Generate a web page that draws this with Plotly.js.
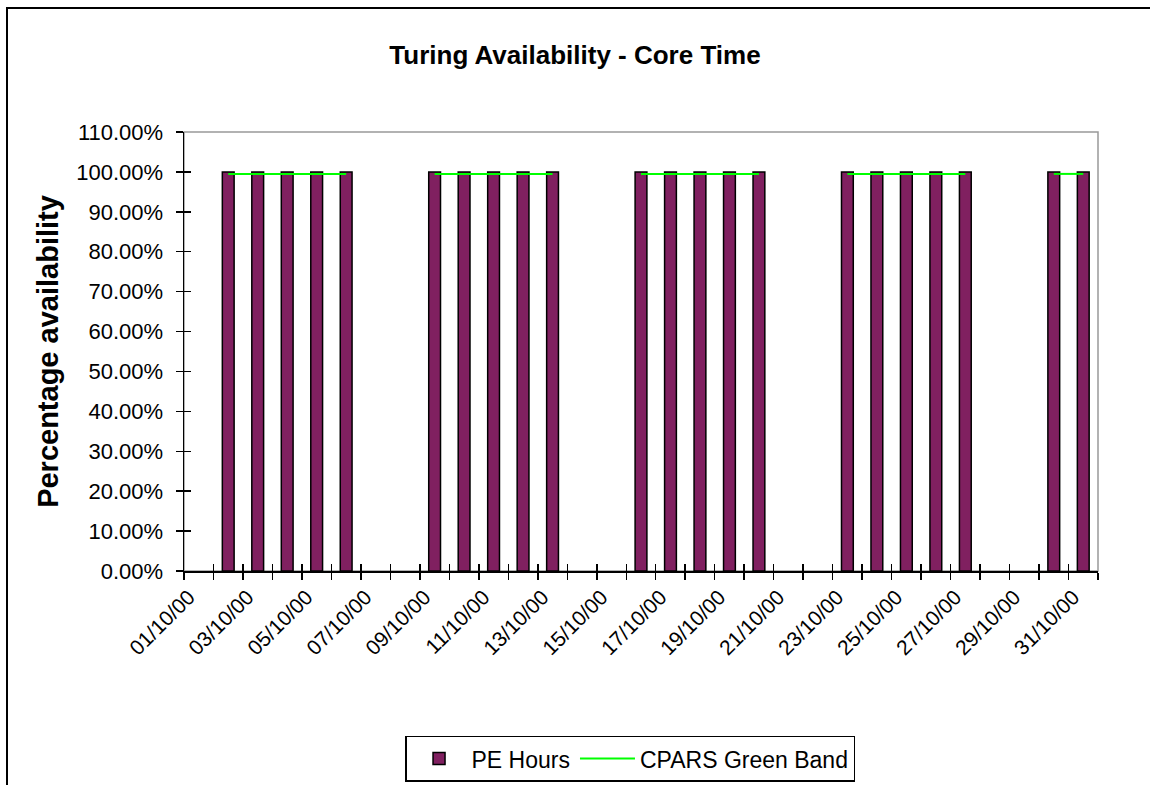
<!DOCTYPE html>
<html>
<head>
<meta charset="utf-8">
<script src="https://cdn.plot.ly/plotly-3.0.1.min.js"></script>
<style>
  html, body { margin: 0; padding: 0; background: #fff; }
  #wrap { position: relative; width: 1150px; height: 785px; overflow: hidden; }
  #chart { position: absolute; left: 0; top: 0; width: 1150px; height: 785px; }
  #frame { position: absolute; left: 6px; top: 7px; width: 1200px; height: 850px;
           border-left: 2px solid #000; border-top: 2px solid #000; pointer-events: none; }
</style>
</head>
<body>
<div id="wrap">
  <div id="chart"></div>
  <div id="frame"></div>
</div>
<script>
const dates = ['01/10/00','02/10/00','03/10/00','04/10/00','05/10/00','06/10/00','07/10/00',
  '08/10/00','09/10/00','10/10/00','11/10/00','12/10/00','13/10/00','14/10/00',
  '15/10/00','16/10/00','17/10/00','18/10/00','19/10/00','20/10/00','21/10/00',
  '22/10/00','23/10/00','24/10/00','25/10/00','26/10/00','27/10/00','28/10/00',
  '29/10/00','30/10/00','31/10/00'];

const tickLabels = ['01/10/00','','03/10/00','','05/10/00','','07/10/00',
  '','09/10/00','','11/10/00','','13/10/00','',
  '15/10/00','','17/10/00','','19/10/00','','21/10/00',
  '','23/10/00','','25/10/00','','27/10/00','',
  '29/10/00','','31/10/00'];

const peHours = [null,1,1,1,1,1,null,
  null,1,1,1,1,1,null,
  null,1,1,1,1,1,null,
  null,1,1,1,1,1,null,
  null,1,1];

const greenBand = [null,0.995,0.995,0.995,0.995,0.995,null,
  null,0.995,0.995,0.995,0.995,0.995,null,
  null,0.995,0.995,0.995,0.995,0.995,null,
  null,0.995,0.995,0.995,0.995,0.995,null,
  null,0.995,0.995];

const FONT = 'Liberation Sans, Arial, sans-serif';

const traces = [
  {
    type: 'bar', name: 'PE Hours', x: dates, y: peHours, width: 0.4,
    marker: { color: '#802060', line: { color: '#000', width: 1.5 } },
    hoverinfo: 'x+y'
  },
  {
    type: 'scatter', mode: 'lines', name: 'CPARS Green Band', x: dates, y: greenBand,
    line: { color: '#00ff00', width: 2 }, connectgaps: false
  },
  {
    type: 'scatter', mode: 'markers', x: dates, y: dates.map(() => null),
    xaxis: 'x2', yaxis: 'y2', showlegend: false, hoverinfo: 'skip',
    marker: { opacity: 0 }
  }
];

const tickStyle = { ticklen: 7, tickwidth: 1.5, tickcolor: '#000' };

const layout = {
  width: 1150, height: 785,
  margin: { l: 184, r: 52, t: 132, b: 214, autoexpand: false },
  paper_bgcolor: '#fff', plot_bgcolor: '#fff',
  font: { family: FONT, color: '#000' },
  showlegend: true,
  title: {
    text: '<b>Turing Availability - Core Time</b>',
    font: { family: FONT, size: 26, color: '#000' },
    x: 0.5, xanchor: 'center', y: 0.93, yanchor: 'middle', xref: 'container', yref: 'container'
  },
  xaxis: Object.assign({
    type: 'category', range: [-0.5, 30.5],
    tickmode: 'array', tickvals: dates, ticktext: tickLabels,
    tickson: 'boundaries', ticks: 'outside', tickangle: -45,
    ticklabelshift: -10, ticklabelstandoff: 4,
    tickfont: { family: FONT, size: 21, color: '#000' },
    showline: true, linecolor: '#000', linewidth: 1.5,
    showgrid: false, zeroline: false, fixedrange: true, automargin: false
  }, tickStyle),
  yaxis: Object.assign({
    range: [0, 1.1], tickmode: 'linear', tick0: 0, dtick: 0.1, tickformat: '.2%',
    ticks: 'outside', ticklabelstandoff: 8,
    tickfont: { family: FONT, size: 22, color: '#000' },
    showline: true, linecolor: '#000', linewidth: 1.5,
    showgrid: false, zeroline: false, fixedrange: true, automargin: false,
    title: { text: '<b>Percentage availability</b>', font: { family: FONT, size: 29, color: '#000' }, standoff: 9 }
  }, tickStyle),
  xaxis2: Object.assign({
    type: 'category', range: [-0.5, 30.5], overlaying: 'x', anchor: 'y2', side: 'bottom',
    tickmode: 'array', tickvals: dates, tickson: 'boundaries', ticks: 'inside',
    showticklabels: false, showline: false, showgrid: false, zeroline: false, fixedrange: true
  }, tickStyle),
  yaxis2: Object.assign({
    range: [0, 1.1], overlaying: 'y', anchor: 'x2', side: 'left',
    tickmode: 'linear', tick0: 0, dtick: 0.1, ticks: 'inside',
    showticklabels: false, showline: false, showgrid: false, zeroline: false, fixedrange: true
  }, tickStyle),
  legend: {
    orientation: 'h', x: 0.488, xanchor: 'center', y: -0.375, yanchor: 'top',
    bordercolor: '#000', borderwidth: 1.5, bgcolor: '#fff',
    font: { family: FONT, size: 23, color: '#000' },
    itemwidth: 55
  },
  shapes: [{
    type: 'rect', xref: 'paper', yref: 'paper', x0: 0, x1: 1, y0: 0, y1: 1,
    line: { color: '#999', width: 1.5 }, layer: 'below'
  }]
};

Plotly.newPlot('chart', traces, layout, { displayModeBar: false, staticPlot: true });
</script>
</body>
</html>
